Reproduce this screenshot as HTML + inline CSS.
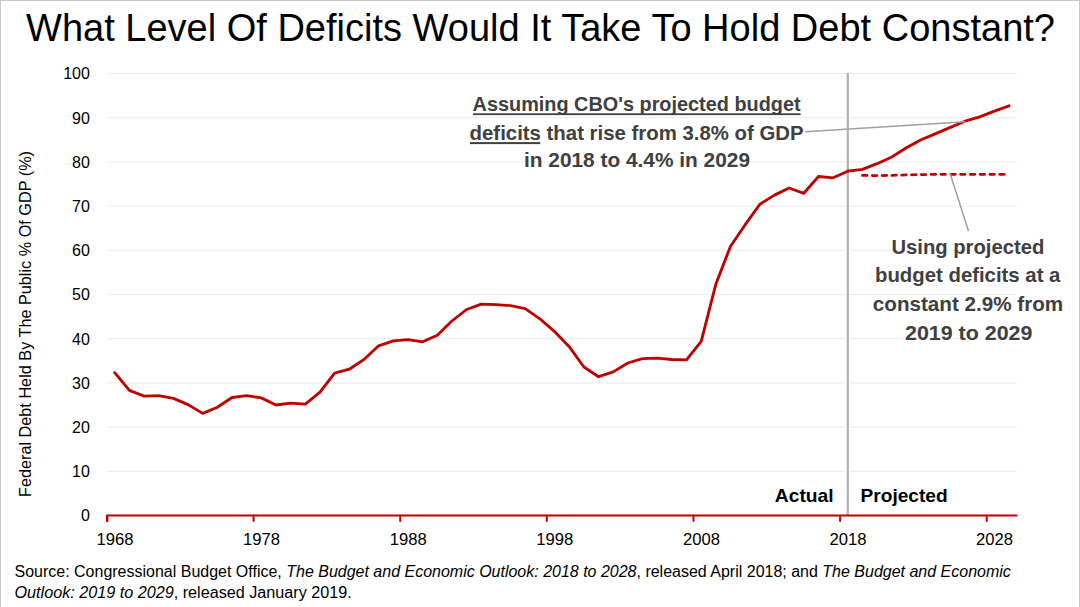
<!DOCTYPE html>
<html><head><meta charset="utf-8">
<style>
html,body{margin:0;padding:0;background:#fff;}
body{width:1080px;height:607px;overflow:hidden;position:relative;}
svg{position:absolute;left:0;top:0;display:block;}
text{font-family:"Liberation Sans",sans-serif;}
</style></head><body>
<svg width="1080" height="607" viewBox="0 0 1080 607">
<rect x="0" y="0" width="1080" height="607" fill="#fff"/>
<rect x="0.5" y="0.5" width="1079" height="620" fill="none" stroke="#c8c8c8" stroke-width="1"/>
<text x="26" y="41.2" font-size="38" fill="#000" textLength="1029" lengthAdjust="spacingAndGlyphs">What Level Of Deficits Would It Take To Hold Debt Constant?</text>
<g stroke="#ebebeb" stroke-width="1"><line x1="107" y1="471.3" x2="1016.6" y2="471.3"/><line x1="107" y1="427.1" x2="1016.6" y2="427.1"/><line x1="107" y1="382.9" x2="1016.6" y2="382.9"/><line x1="107" y1="338.7" x2="1016.6" y2="338.7"/><line x1="107" y1="294.5" x2="1016.6" y2="294.5"/><line x1="107" y1="250.3" x2="1016.6" y2="250.3"/><line x1="107" y1="206.1" x2="1016.6" y2="206.1"/><line x1="107" y1="161.9" x2="1016.6" y2="161.9"/><line x1="107" y1="117.7" x2="1016.6" y2="117.7"/><line x1="107" y1="73.5" x2="1016.6" y2="73.5"/></g>
<g font-size="16" fill="#000" text-anchor="end"><text x="89.9" y="521.3">0</text><text x="89.9" y="477.1">10</text><text x="89.9" y="432.9">20</text><text x="89.9" y="388.7">30</text><text x="89.9" y="344.5">40</text><text x="89.9" y="300.3">50</text><text x="89.9" y="256.1">60</text><text x="89.9" y="211.9">70</text><text x="89.9" y="167.7">80</text><text x="89.9" y="123.5">90</text><text x="89.9" y="79.3">100</text></g>
<text transform="translate(31.3,497) rotate(-90)" font-size="16" fill="#000" textLength="346" lengthAdjust="spacingAndGlyphs">Federal Debt Held By The Public % Of GDP (%)</text>
<line x1="847.8" y1="73.5" x2="847.8" y2="515" stroke="#fff" stroke-width="4.6"/><line x1="847.8" y1="73" x2="847.8" y2="515" stroke="#b4b4b4" stroke-width="2.3"/>
<g stroke="#c00000" stroke-width="2" stroke-linecap="round" stroke-linejoin="round" fill="none">
<path d="M107.4,521 L107.4,515.5 L1016.6,515.5"/><line x1="107.0" y1="515.5" x2="107.0" y2="521"/><line x1="253.6" y1="515.5" x2="253.6" y2="521"/><line x1="400.2" y1="515.5" x2="400.2" y2="521"/><line x1="546.8" y1="515.5" x2="546.8" y2="521"/><line x1="693.5" y1="515.5" x2="693.5" y2="521"/><line x1="840.1" y1="515.5" x2="840.1" y2="521"/><line x1="986.7" y1="515.5" x2="986.7" y2="521"/></g>
<g font-size="16" fill="#000"><text x="96.4" y="545.2" textLength="37" lengthAdjust="spacingAndGlyphs">1968</text><text x="243.0" y="545.2" textLength="37" lengthAdjust="spacingAndGlyphs">1978</text><text x="389.7" y="545.2" textLength="37" lengthAdjust="spacingAndGlyphs">1988</text><text x="536.3" y="545.2" textLength="37" lengthAdjust="spacingAndGlyphs">1998</text><text x="682.9" y="545.2" textLength="37" lengthAdjust="spacingAndGlyphs">2008</text><text x="829.5" y="545.2" textLength="37" lengthAdjust="spacingAndGlyphs">2018</text><text x="976.1" y="545.2" textLength="37" lengthAdjust="spacingAndGlyphs">2028</text></g>
<path d="M114.7,372.7 L129.4,390.4 L144.1,396.2 L158.7,395.7 L173.4,398.4 L188.0,404.6 L202.7,413.4 L217.4,407.2 L232.0,397.5 L246.7,395.7 L261.3,397.9 L276.0,405.0 L290.7,403.2 L305.3,404.1 L320.0,392.2 L334.6,373.2 L349.3,369.2 L364.0,359.5 L378.6,345.8 L393.3,340.9 L408.0,339.6 L422.6,341.8 L437.3,335.2 L451.9,321.0 L466.6,309.5 L481.3,304.2 L495.9,304.7 L510.6,305.6 L525.2,308.6 L539.9,318.8 L554.6,331.6 L569.2,346.7 L583.9,367.0 L598.6,376.7 L613.2,371.9 L627.9,363.0 L642.5,358.6 L657.2,358.1 L671.9,359.5 L686.5,359.9 L701.2,341.4 L715.8,284.3 L730.5,246.3 L745.2,224.7 L759.8,204.3 L774.5,195.1 L789.1,188.0 L803.8,193.3 L818.5,176.5 L833.1,177.8 L847.8,171.2" stroke="#c00000" stroke-width="2.85" fill="none" stroke-linejoin="round" stroke-linecap="round"/>
<path d="M847.8,171.2 L862.5,169.4 L877.1,163.7 L891.8,157.0 L906.4,147.8 L921.1,139.8 L935.8,133.6 L950.4,127.4 L965.1,121.2 L979.7,116.8 L994.4,111.1 L1009.1,105.8" stroke="#c00000" stroke-width="2.85" fill="none" stroke-linejoin="round" stroke-linecap="round"/>
<path d="M862.5,175.4 L877.1,175.6 L891.8,175.4 L906.4,174.9 L921.1,174.6 L935.8,174.3 L950.4,174.3 L965.1,174.3 L979.7,174.3 L994.4,174.3 L1009.1,174.3" stroke="#c00000" stroke-width="2.75" fill="none" stroke-dasharray="4.6 5.2" stroke-linecap="round"/>
<g stroke="#a0a0a0" stroke-width="1.5"><line x1="805.3" y1="131.7" x2="965.6" y2="121.7"/><line x1="950" y1="173.3" x2="968.5" y2="230.9"/></g>
<g fill="#404040">
<rect x="473" y="113.3" width="327.6" height="1.8"/>
<rect x="470" y="142.1" width="70.2" height="2"/>
</g>
<g font-size="20.6" font-weight="bold" fill="#404040">
<text x="472.6" y="110.7" textLength="328" lengthAdjust="spacingAndGlyphs">Assuming CBO's projected budget</text>
<text x="469.6" y="139.6" textLength="334" lengthAdjust="spacingAndGlyphs">deficits that rise from 3.8% of GDP</text>
<text x="524" y="167.4" textLength="226" lengthAdjust="spacingAndGlyphs">in 2018 to 4.4% in 2029</text>
<text x="891.4" y="253.6" textLength="153" lengthAdjust="spacingAndGlyphs">Using projected</text>
<text x="875" y="282.3" textLength="185.4" lengthAdjust="spacingAndGlyphs">budget deficits at a</text>
<text x="872.8" y="310.9" textLength="190.4" lengthAdjust="spacingAndGlyphs">constant 2.9% from</text>
<text x="905" y="339.6" textLength="127.4" lengthAdjust="spacingAndGlyphs">2019 to 2029</text>
</g>
<g font-size="18.5" font-weight="bold" fill="#000">
<text x="774.8" y="501.8" textLength="58.8" lengthAdjust="spacingAndGlyphs">Actual</text>
<text x="860.6" y="501.8" textLength="87" lengthAdjust="spacingAndGlyphs">Projected</text>
</g>
<g font-size="16" fill="#000">
<text x="14.5" y="576.6" textLength="996.3" lengthAdjust="spacingAndGlyphs">Source: Congressional Budget Office, <tspan font-style="italic">The Budget and Economic Outlook: 2018 to 2028</tspan>, released April 2018; and <tspan font-style="italic">The Budget and Economic</tspan></text>
<text x="14.5" y="597.7" textLength="337.3" lengthAdjust="spacingAndGlyphs"><tspan font-style="italic">Outlook: 2019 to 2029</tspan>, released January 2019.</text>
</g>
</svg>
</body></html>
